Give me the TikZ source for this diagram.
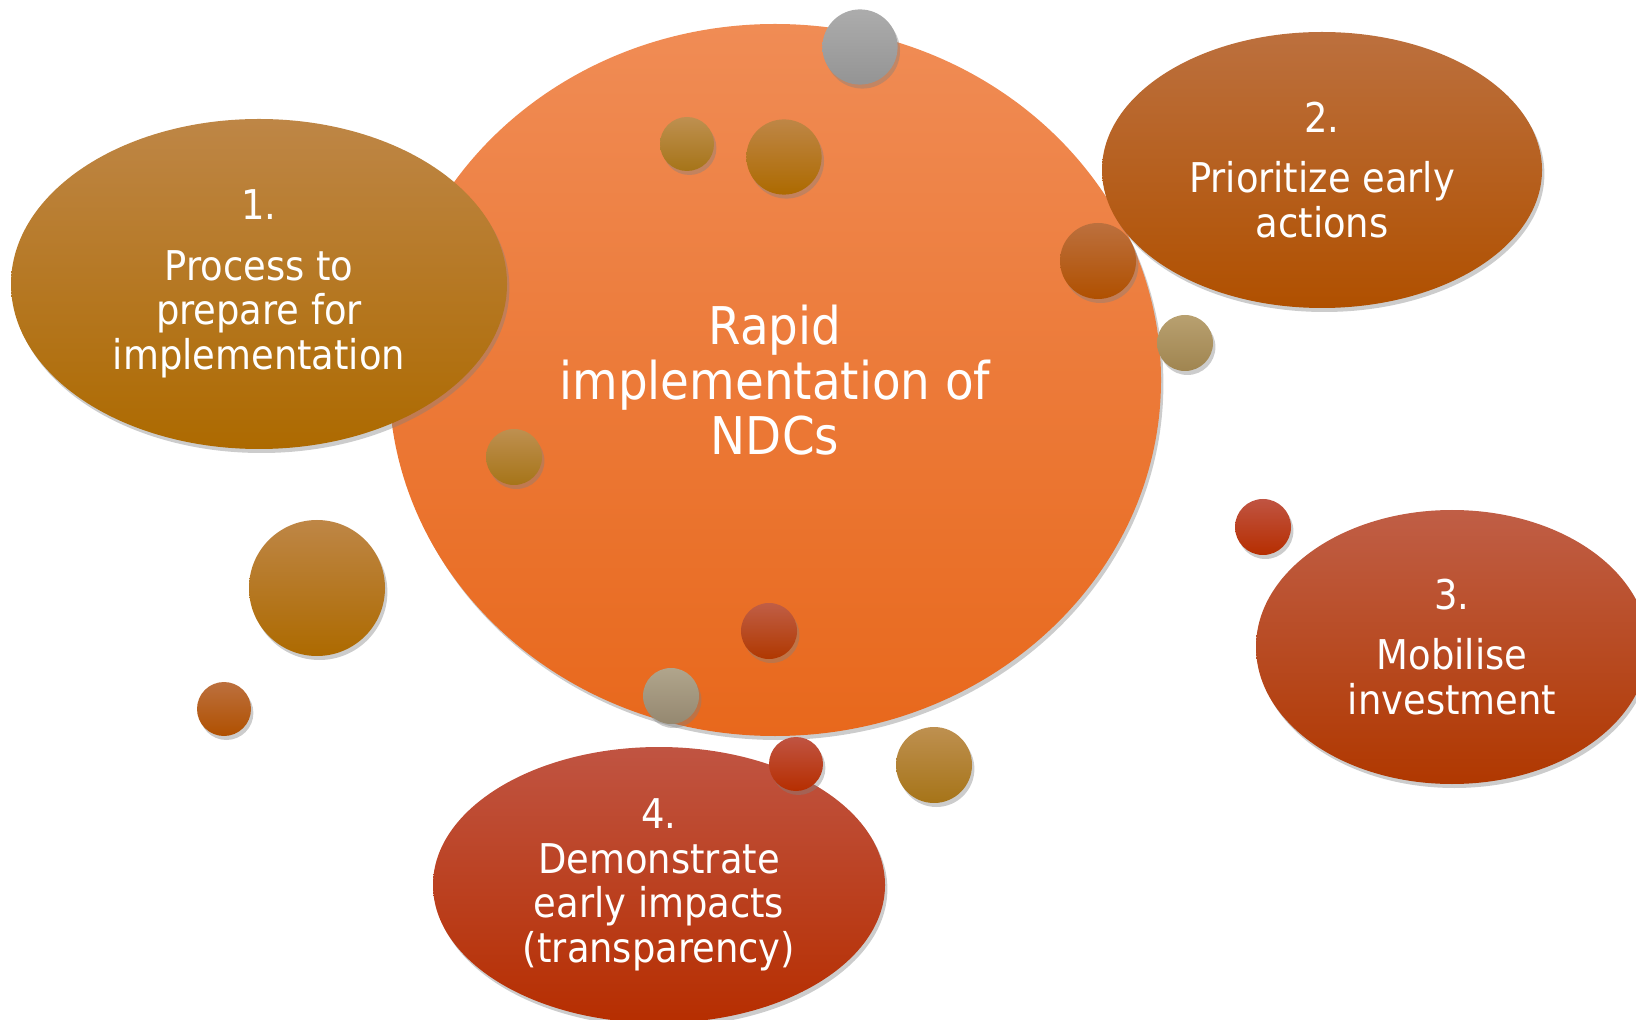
\documentclass[tikz,border=0pt]{standalone}
\usepackage{fontspec}
\setmainfont{DejaVu Sans Condensed}
\usepackage{tikz}
\usetikzlibrary{shapes.geometric, shadows}
\definecolor{sunTop}{RGB}{240,140,85}
\definecolor{sunBot}{RGB}{232,104,28}
\definecolor{goldTop}{RGB}{190,134,70}
\definecolor{goldBot}{RGB}{173,106,0}
\definecolor{amberTop}{RGB}{188,112,62}
\definecolor{amberBot}{RGB}{176,80,0}
\definecolor{rustTop}{RGB}{192,94,70}
\definecolor{rustBot}{RGB}{176,56,0}
\definecolor{redTop}{RGB}{192,84,66}
\definecolor{redBot}{RGB}{182,46,0}
\definecolor{greyTop}{RGB}{172,172,172}
\definecolor{greyBot}{RGB}{148,148,148}
\definecolor{ochreTop}{RGB}{190,144,80}
\definecolor{ochreBot}{RGB}{166,116,24}
\definecolor{sandTop}{RGB}{184,160,112}
\definecolor{sandBot}{RGB}{160,133,80}
\definecolor{stoneTop}{RGB}{176,165,140}
\definecolor{stoneBot}{RGB}{149,136,112}
\tikzset{
every node/.style={text=white, align=center, inner sep=0pt}, % white centred text everywhere
soft/.style={drop shadow={shadow xshift=1.2pt, shadow yshift=-2pt, opacity=0.4}}, % the shadow under each shape
core/.style={ellipse, soft, top color=sunTop, bottom color=sunBot, font=\fontsize{26}{27.5}\selectfont},
petal/.style={ellipse, soft, font=\fontsize{20.5}{22.25}\selectfont}, % the four numbered ellipses
bubble/.style={circle, soft}, % the small decorative balls
gold/.style={top color=goldTop, bottom color=goldBot},
amber/.style={top color=amberTop, bottom color=amberBot},
rust/.style={top color=rustTop, bottom color=rustBot},
scarlet/.style={top color=redTop, bottom color=redBot},
silver/.style={top color=greyTop, bottom color=greyBot},
ochre/.style={top color=ochreTop, bottom color=ochreBot},
sand/.style={top color=sandTop, bottom color=sandBot},
stone/.style={top color=stoneTop, bottom color=stoneBot},
}

\begin{document}
\begin{tikzpicture}[x=0.5pt, y=-0.5pt]
\useasboundingbox (0,0) rectangle (1636,1020);
\clip (0,0) rectangle (1636,1020);
\node[core, minimum width=386pt, minimum height=356pt] at (775,380) (ndc) {Rapid\\implementation of\\NDCs};
\node[petal, gold, minimum width=248pt, minimum height=165pt] at (259,284) (p1) {1.\\[8pt]Process to\\prepare for\\implementation};
\node[petal, amber, minimum width=220pt, minimum height=138pt] at (1322,170) (p2) {2.\\[8pt]Prioritize early\\actions};
\node[petal, rust, minimum width=196pt, minimum height=137pt] at (1452,647) (p3) {3.\\[8pt]Mobilise\\investment};
\node[petal, scarlet, minimum width=226pt, minimum height=138pt] at (659,885) (p4) {4.\\Demonstrate\\early impacts\\(transparency)};
\node[bubble, silver, minimum size=37.6pt] at (860,47) (b1) {};
\node[bubble, ochre, minimum size=27pt] at (687,144) (b2) {};
\node[bubble, gold, minimum size=37.6pt] at (784,157) (b3) {};
\node[bubble, amber, minimum size=38pt] at (1098,261) (b4) {};
\node[bubble, sand, minimum size=28pt] at (1185,343) (b5) {};
\node[bubble, ochre, minimum size=28pt] at (514,457) (b6) {};
\node[bubble, gold, minimum size=68pt] at (317,588) (b7) {};
\node[bubble, amber, minimum size=27pt] at (224,709) (b8) {};
\node[bubble, scarlet, minimum size=28pt] at (1263,527) (b9) {};
\node[bubble, rust, minimum size=28pt] at (769,631) (b10) {};
\node[bubble, stone, minimum size=28pt] at (671,696) (b11) {};
\node[bubble, scarlet, minimum size=27pt] at (796,764) (b12) {};
\node[bubble, ochre, minimum size=38pt] at (934,765) (b13) {};
\end{tikzpicture}
\end{document}
